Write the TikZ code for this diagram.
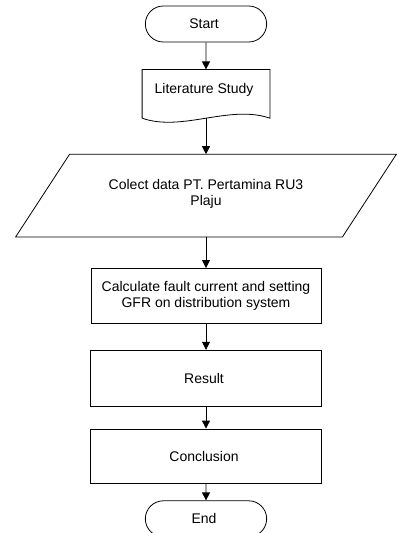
\documentclass[tikz,border=0pt]{standalone}
\usepackage{fontspec}
\setmainfont{Liberation Sans}
\usepackage{tikz}
\usetikzlibrary{shapes,positioning,calc,arrows.meta}

\begin{document}
\begin{tikzpicture}[x=1pt,y=1pt,font=\fontsize{14}{16}\selectfont,line width=0.8pt,>={Triangle[length=8pt,width=8pt]}]

\useasboundingbox (0,0) rectangle (397,-533);

\node[draw,
    rounded rectangle,
    minimum width=128pt,
    minimum height=36pt,
    align=center
] (block1) at (206,-24) { Start };

\node[below=27pt of block1,
    minimum width=127pt,
    minimum height=48pt,
    text depth=11pt,
    align=center
] (block2) { Literature Study };
\draw (block2.south west) -- (block2.north west) -- (block2.north east) -- (block2.south east)
    .. controls +(-40,14) and +(40,-14) .. (block2.south west);

\node[below=36pt of block2,
    minimum width=272pt,
    minimum height=82pt,
    text depth=6pt,
    align=center
] (block3) { Colect data PT. Pertamina RU3\\Plaju };
\draw (block3.north west) -- ($(block3.north east)+(54,0)$) -- (block3.south east) -- ($(block3.south west)+(-54,0)$) -- cycle;

\node[draw,
    below=31pt of block3,
    minimum width=230pt,
    minimum height=55pt,
    align=center
] (block4) { Calculate fault current and setting\\GFR on distribution system };

\node[draw,
    below=26pt of block4,
    minimum width=231pt,
    minimum height=56pt,
    align=center
] (block5) { Result };

\node[draw,
    below=22pt of block5,
    minimum width=231pt,
    minimum height=54pt,
    align=center
] (block6) { Conclusion };

\node[draw,
    rounded rectangle,
    below=17pt of block6,
    minimum width=128pt,
    minimum height=36pt,
    align=center
] (block7) { End };

\draw[->] (block1) -- (block2);
\draw[->] (block2) -- (block3);
\draw[->] (block3) -- (block4);
\draw[->] (block4) -- (block5);
\draw[->] (block5) -- (block6);
\draw[->] (block6) -- (block7);

\end{tikzpicture}
\end{document}
